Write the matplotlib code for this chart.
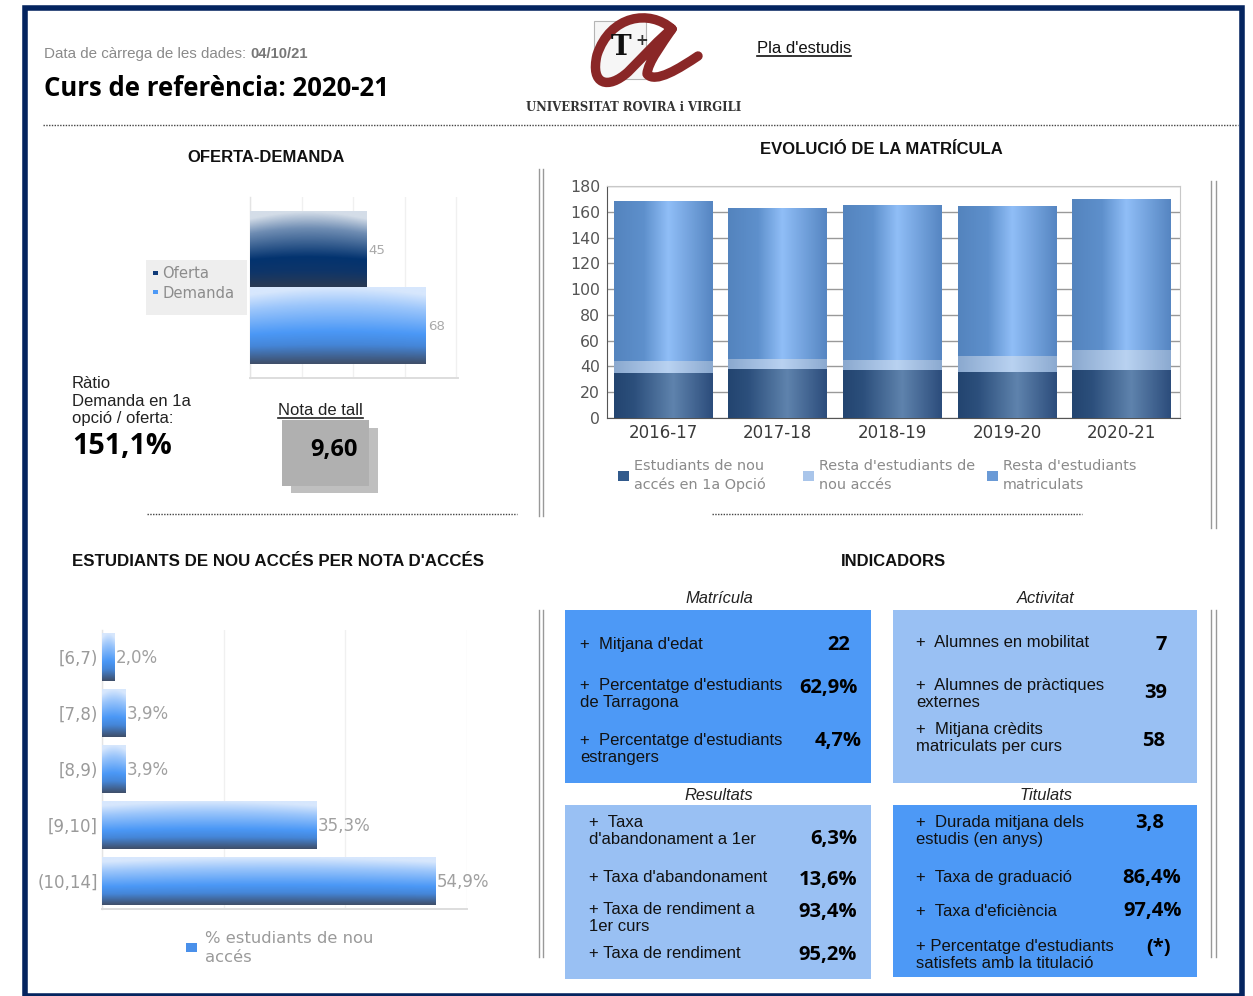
import numpy as np
import matplotlib
matplotlib.use('Agg')
import matplotlib.pyplot as plt
from matplotlib.colors import LinearSegmentedColormap
from matplotlib.patches import Rectangle, PathPatch
from matplotlib.path import Path

W, H = 1253, 996

# oferta-demanda
od_labels = ['Oferta', 'Demanda']
od_values = [45, 68]

# evolucio de la matricula
cursos = ['2016-17', '2017-18', '2018-19', '2019-20', '2020-21']
nou_1a = [35, 38, 37, 36, 37]
resta_nou = [9, 8, 8, 12, 16]
resta_mat = [124, 117, 120, 116, 117]
mat_legend = ['Estudiants de nou\naccés en 1a Opció',
              "Resta d'estudiants de\nnou accés",
              "Resta d'estudiants\nmatriculats"]

# nota d'acces
notes = ['[6,7)', '[7,8)', '[8,9)', '[9,10]', '(10,14]']
notes_pct = [2.0, 3.9, 3.9, 35.3, 54.9]
notes_txt = ['2,0%', '3,9%', '3,9%', '35,3%', '54,9%']

# indicadors
matricula = [('+  Mitjana d\'edat', '22'),
             ("+  Percentatge d'estudiants\nde Tarragona", '62,9%'),
             ("+  Percentatge d'estudiants\nestrangers", '4,7%')]
activitat = [('+  Alumnes en mobilitat', '7'),
             ('+  Alumnes de pràctiques\nexternes', '39'),
             ('+  Mitjana crèdits\nmatriculats per curs', '58')]
resultats = [("+  Taxa\nd'abandonament a 1er", '6,3%'),
             ("+ Taxa d'abandonament", '13,6%'),
             ('+ Taxa de rendiment a\n1er curs', '93,4%'),
             ('+ Taxa de rendiment', '95,2%')]
titulats = [('+  Durada mitjana dels\nestudis (en anys)', '3,8'),
            ('+  Taxa de graduació', '86,4%'),
            ("+  Taxa d'eficiència", '97,4%'),
            ("+ Percentatge d'estudiants\nsatisfets amb la titulació", '(*)')]

SANS = 'Liberation Sans'
DJ = 'DejaVu Sans'
HEAVY = 'Open Sans'
NAVY = '#04245f'
BLUE = '#4d99f6'
LIGHT = '#99c0f3'

# gradients, top to bottom for barh and left to right for the stacked bars
cm_oferta = LinearSegmentedColormap.from_list('o', [(0, '#d4dde8'), (.22, '#6f8db3'), (.6, '#03336f'), (.78, '#0e3569'), (1, '#2b3a52')])
cm_demanda = LinearSegmentedColormap.from_list('d', [(0, '#d7e7fd'), (.22, '#9cc6fb'), (.58, '#4b98f6'), (.75, '#4586d8'), (1, '#3f4f6a')])
cm_dark = LinearSegmentedColormap.from_list('a', [(0, '#234570'), (.2, '#2c4f7c'), (.6, '#5f83ad'), (1, '#2c4d7c')])
cm_mid = LinearSegmentedColormap.from_list('b', [(0, '#8ba9cf'), (.55, '#b9d2f1'), (1, '#8caad0')])
cm_top = LinearSegmentedColormap.from_list('c', [(0, '#5484be'), (.3, '#5e90cc'), (.55, '#90bef7'), (1, '#5686c2')])

fig = plt.figure(figsize=(W / 100, H / 100), dpi=100, facecolor='white')
bg = fig.add_axes([0, 0, 1, 1])
bg.set_xlim(0, W)
bg.set_ylim(H, 0)
bg.axis('off')


def px_axes(x0, y0, x1, y1):
    ax = fig.add_axes([x0 / W, 1 - y1 / H, (x1 - x0) / W, (y1 - y0) / H])
    ax.patch.set_alpha(0)
    return ax


def txt(x, y, s, size=11, color='#222222', family=SANS, **kw):
    kw.setdefault('va', 'center')
    bg.text(x, y, s, fontsize=size, color=color, family=family, **kw)


def gradient_barh(ax, y, value, height, cmap, arc=0.0):
    # the bar gives the extent, the picture only fills it
    ax.barh(y, value, height=height, color='none', zorder=3)
    u, v = np.meshgrid(np.linspace(0, 1, 80), np.linspace(0, 1, 80))
    t = np.clip(v - arc * (2 * u - 1) ** 2 * (1 - v), 0, 1)
    ax.imshow(t, cmap=cmap, vmin=0, vmax=1, aspect='auto', zorder=3,
              extent=[0, value, y + height / 2, y - height / 2])


def gradient_bar(ax, x, bottom, value, width, cmap):
    ax.bar(x, value, width=width, bottom=bottom, color='none', zorder=3)
    g = np.linspace(0, 1, 100).reshape(1, -1)
    ax.imshow(g, cmap=cmap, vmin=0, vmax=1, aspect='auto', zorder=3,
              extent=[x - width / 2, x + width / 2, bottom, bottom + value])


def soft_axes(ax):
    for s in ('top', 'right'):
        ax.spines[s].set_visible(False)
    ax.spines['left'].set_color('#e4e4e4')
    ax.spines['bottom'].set_color('#dddddd')
    ax.spines['left'].set_linewidth(1)
    ax.spines['bottom'].set_linewidth(1.4)
    ax.grid(axis='x', color='#f0f0f0', lw=1, zorder=0)
    ax.set_axisbelow(True)
    ax.tick_params(length=0)
    ax.set_xticklabels([])


# frame
bg.add_patch(Rectangle((25, 7.5), 1217, 988, fill=False, ec=NAVY, lw=4))

# header
txt(44, 54, 'Data de càrrega de les dades:', 10.9, '#8a8a8a')
txt(250, 54, '04/10/21', 10.6, '#777777', weight='bold')
txt(44, 88, 'Curs de referència: 2020-21', 18.5, '#000000', family=HEAVY, weight='bold')
txt(757, 48, "Pla d'estudis", 12, '#111111')
bg.plot([757, 851], [56, 56], color='#111111', lw=1.2)
bg.plot([43, 1238], [125, 125], color='#444444', lw=1, ls=(0, (1, 1)))
bg.plot([147, 517], [514, 514], color='#444444', lw=1, ls=(0, (1, 1)))
bg.plot([712, 1082], [514, 514], color='#444444', lw=1, ls=(0, (1, 1)))

# logo
bg.add_patch(Rectangle((594, 21), 52, 58, fc='#f6f6f6', ec='#b5b5b5', lw=.8))
bg.text(621, 47, 'T', fontsize=20, family='DejaVu Serif', weight='bold', ha='center', va='center', color='#111111')
bg.text(642, 40, '+', fontsize=11, family=DJ, weight='bold', ha='center', va='center', color='#333333')
logo = Path([(672, 29), (650, 9), (610, 15), (597, 55),
             (590, 85), (608, 90), (628, 72),
             (645, 55), (660, 38), (672, 29),
             (662, 44), (648, 62), (647, 74),
             (655, 84), (680, 68), (698, 56)],
            [Path.MOVETO] + [Path.CURVE4] * 15)
bg.add_patch(PathPatch(logo, fc='none', ec='#8a2727', lw=6.8, capstyle='round', joinstyle='round'))
txt(634, 107, 'UNIVERSITAT ROVIRA i VIRGILI', 8.4, '#333333', family='DejaVu Serif', weight='bold', ha='center')

# section titles
txt(266, 157, 'OFERTA-DEMANDA', 12, '#111111', ha='center', weight='bold')
txt(881, 149, 'EVOLUCIÓ DE LA MATRÍCULA', 12, '#111111', ha='center', weight='bold')
txt(72, 561, "ESTUDIANTS DE NOU ACCÉS PER NOTA D'ACCÉS", 12.15, '#111111', weight='bold')
txt(893, 561, 'INDICADORS', 12, '#111111', ha='center', weight='bold')

# double rules
for x in (539, 543):
    bg.plot([x, x], [169, 516], color='#999999', lw=1)
    bg.plot([x, x], [610, 957], color='#999999', lw=1)
for x in (1211, 1216):
    bg.plot([x, x], [181, 528], color='#999999', lw=1)
    bg.plot([x, x], [610, 957], color='#999999', lw=1)

# oferta-demanda chart
ax1 = px_axes(250, 197, 458, 378)
ax1.set_xticks(range(0, 81, 20))
soft_axes(ax1)
ax1.set_yticks([])
for i, (v, cm) in enumerate(zip(od_values, [cm_oferta, cm_demanda])):
    gradient_barh(ax1, i, v, 1.0, cm, arc=0.1)
    ax1.text(v + 0.9, i, str(v), fontsize=9.6, color='#a9a9a9', va='center', family=DJ)
ax1.set_xlim(0, 80.6)
ax1.set_ylim(1.68, -0.70)

bg.add_patch(Rectangle((146, 260), 101, 55, fc='#eeeeee', ec='none'))
bg.add_patch(Rectangle((153, 271), 5, 4, fc='#0f3a78', ec='none'))
bg.add_patch(Rectangle((153, 290), 5, 4, fc='#4d99f6', ec='none'))
txt(162, 273, od_labels[0], 10.6, '#8c8c8c', family=DJ)
txt(162, 293, od_labels[1], 10.6, '#8c8c8c', family=DJ)

# ratio and nota de tall
txt(72, 401, 'Ràtio\nDemanda en 1a\nopció / oferta:', 12, '#222222', linespacing=1.2)
txt(72, 446, '151,1%', 20.7, '#000000', family=HEAVY, weight='bold')
txt(278, 410, 'Nota de tall', 12, '#222222')
bg.plot([278, 363], [418, 418], color='#222222', lw=1.2)
bg.add_patch(Rectangle((291, 428), 87, 65, fc='#bfbfbf', ec='none'))
bg.add_patch(Rectangle((282, 420), 87, 66, fc='#b0b0b0', ec='none'))
txt(334, 450, '9,60', 17, '#000000', family=HEAVY, weight='bold', ha='center')

# evolucio chart
ax2 = px_axes(607, 186, 1180, 418)
xs = np.arange(len(cursos))
ax2.set_yticks(range(0, 181, 20))
ax2.grid(axis='y', color='#999999', lw=1, zorder=0)
ax2.set_axisbelow(True)
ax2.set_xticks(xs, cursos)
ax2.tick_params(axis='y', length=0, labelsize=11.3, labelcolor='#555555', pad=5)
ax2.tick_params(axis='x', length=0, labelsize=12, labelcolor='#3a3a3a', pad=4)
for s in ax2.spines.values():
    s.set_color('#c8c8c8')
ax2.spines['left'].set_color('#555555')
ax2.spines['bottom'].set_color('#555555')
for x, a, b, c in zip(xs, nou_1a, resta_nou, resta_mat):
    gradient_bar(ax2, x, 0, a, 0.86, cm_dark)
    gradient_bar(ax2, x, a, b, 0.86, cm_mid)
    gradient_bar(ax2, x, a + b, c, 0.86, cm_top)
ax2.set_xlim(-0.49, 4.51)
ax2.set_ylim(0, 180)

for x, label, col in zip((618, 803, 987), mat_legend, ('#315a8c', '#a9c5ea', '#6a9ad6')):
    bg.add_patch(Rectangle((x, 471), 11, 10, fc=col, ec='none'))
    txt(x + 16, 475.5, label, 10.4, '#8a8a8a', family=DJ, linespacing=1.4)

# nota d'acces chart
ax3 = px_axes(102, 630, 467, 909)
ax3.set_xticks(range(0, 61, 20))
soft_axes(ax3)
ax3.set_yticks(range(len(notes)), notes)
ax3.tick_params(axis='y', labelsize=12, labelcolor='#9a9a9a', pad=3)
for t in ax3.get_yticklabels():
    t.set_family(DJ)
for i, (v, t) in enumerate(zip(notes_pct, notes_txt)):
    gradient_barh(ax3, i, v, 0.857, cm_demanda, arc=0.1)
    ax3.text(v + 0.2, i + 0.02, t, fontsize=12, color='#a0a0a0', va='center', family=DJ)
ax3.set_xlim(0, 60)
ax3.set_ylim(4.5, -0.482)

bg.add_patch(Rectangle((186, 943), 11, 9, fc='#4a90ea', ec='none'))
txt(205, 948, '% estudiants de nou\naccés', 11.8, '#9a9a9a', family=DJ, linespacing=1.28)


# indicator panels
def panel(x0, y0, x1, y1, col, title, title_y, rows, ys, xt, xv, title_x):
    bg.add_patch(Rectangle((x0, y0), x1 - x0, y1 - y0, fc=col, ec='none'))
    txt(title_x, title_y, title, 11.9, '#222222', style='italic', ha='center')
    for (label, val), (yt, yv), vx in zip(rows, ys, xv):
        txt(xt, yt, label, 12, '#111111', linespacing=1.22)
        txt(vx, yv, val, 14.5, '#000000', family=HEAVY, weight='bold', ha='right')


panel(565, 610, 871, 783, BLUE, 'Matrícula', 598, matricula,
      [(644, 645), (694, 688), (749, 741)], 580, (850, 858, 862), 719)
panel(893, 610, 1197, 783, LIGHT, 'Activitat', 598, activitat,
      [(642, 645), (694, 693), (738, 741)], 916, (1167, 1167, 1165), 1046)
panel(565, 805, 871, 979, LIGHT, 'Resultats', 795, resultats,
      [(831, 839), (877, 880), (918, 912), (953, 955)], 589, (857, 857, 857, 857), 719)
panel(893, 805, 1197, 977, BLUE, 'Titulats', 795, titulats,
      [(831, 823), (877, 878), (911, 911), (955, 948)], 916, (1164, 1181, 1182, 1171), 1046)

fig.savefig('out.png', dpi=100, facecolor='white')
